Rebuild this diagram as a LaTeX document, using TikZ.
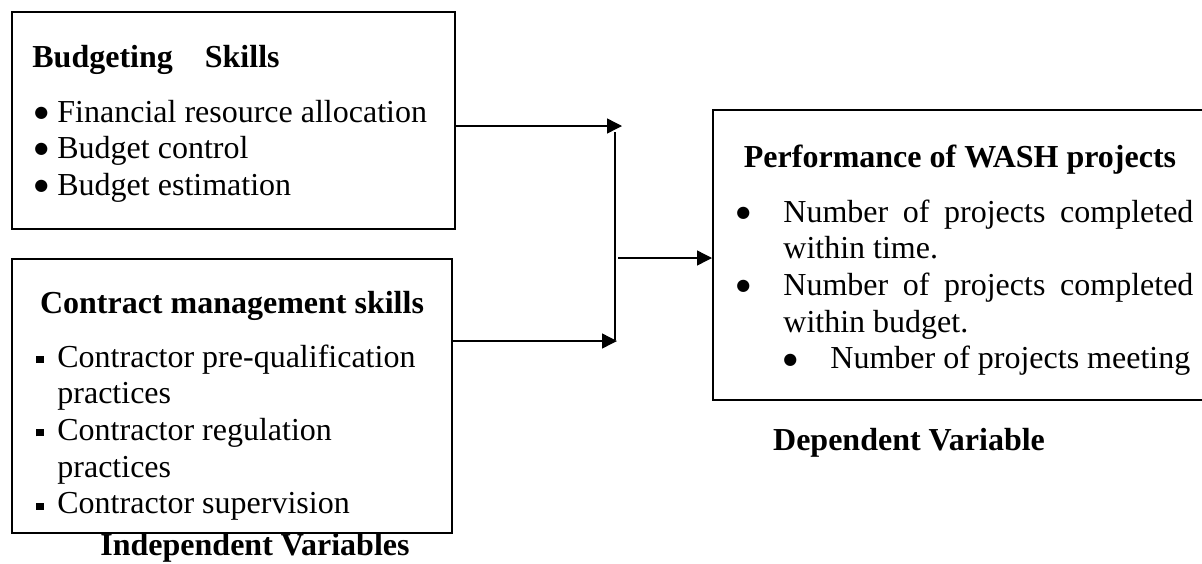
\documentclass[tikz,border=0pt]{standalone}
\usepackage{fontspec}
\setmainfont{Liberation Serif}
\newfontfamily\symfont{DejaVu Sans}
\usetikzlibrary{arrows.meta,calc}
\tikzset{
    varbox/.style={
        rectangle,
        line width=1pt,
        draw=black,
        inner sep=0pt,
    },
    boxtext/.style={
        inner sep=0pt,
        font=\fontsize{16}{18.35}\selectfont,
    },
    headtext/.style={
        inner sep=0pt,
        font=\fontsize{16}{18.35}\selectfont\bfseries,
    },
    flow/.style={
        line width=0.7pt,
        -{Triangle[length=7.5pt,width=7.5pt]},
    },
}
\newcommand{\sqbullet}{\rule[2pt]{3.6pt}{3.6pt}}
\newcommand{\rndbullet}{\raisebox{2.4pt}{\symfont\fontsize{8}{9}\selectfont ●}}

\begin{document}
\begin{tikzpicture}[x=0.5pt,y=-0.5pt]
    \path[use as bounding box] (0,0) rectangle (1202,563);
    \clip (0,0) rectangle (1202,563);
    % the three boxes
    \node [varbox, minimum width=221.5pt, minimum height=108.5pt] (budget) at (233.5,120.5) {};
    \node [varbox, minimum width=220pt, minimum height=137pt] (contract) at (232,396) {};
    \node [varbox, minimum width=246.5pt, minimum height=145pt] (wash) at (959.5,255) {};
    % texts in the boxes
    \node [headtext, anchor=base west] (budget-head) at (32,67) {Budgeting\hspace{16pt}Skills};
    \node [boxtext, anchor=base west] (budget-items) at (34,122) {%
        \begin{tabular}[t]{@{}p{11.5pt}@{}l@{}}
            \rndbullet & Financial resource allocation\\
            \rndbullet & Budget control\\
            \rndbullet & Budget estimation
        \end{tabular}};
    \node [headtext, anchor=base] (contract-head) at (232,313) {Contract management skills};
    \node [boxtext, anchor=base west] (contract-items) at (36,367) {%
        \begin{tabular}[t]{@{}p{10.5pt}@{}l@{}}
            \sqbullet & Contractor pre-qualification\\
                      & practices\\
            \sqbullet & Contractor regulation\\
                      & practices\\
            \sqbullet & Contractor supervision
        \end{tabular}};
    \node [headtext, anchor=base] (wash-head) at (960,167) {Performance of WASH projects};
    \node [boxtext, anchor=base west] (wash-items) at (736,222) {%
        \begin{tabular}[t]{@{}p{23.5pt}@{}p{205pt}@{}}
            \rndbullet & Number of projects completed within time.\\
            \rndbullet & Number of projects completed within budget.\\
                        & \makebox[23.5pt][l]{\rndbullet}Number of projects meeting
        \end{tabular}};
    % labels under the boxes
    \node [headtext, anchor=base] (indep) at (255,555) {Independent Variables};
    \node [headtext, anchor=base] (dep) at (909,450) {Dependent Variable};
    % connectors
    \coordinate (top-in) at (622,126);
    \coordinate (bottom-in) at (617,341);
    \coordinate (join-top) at (615,132);
    \coordinate (join-bottom) at (615,340);
    \coordinate (join-mid) at (618,258);
    \draw[flow] (budget.east |- top-in) -- (top-in);
    \draw[flow] (contract.east |- bottom-in) -- (bottom-in);
    \draw[line width=0.7pt] (join-top) -- (join-bottom);
    \draw[flow] (join-mid) -- (join-mid -| wash.west);
\end{tikzpicture}
\end{document}
